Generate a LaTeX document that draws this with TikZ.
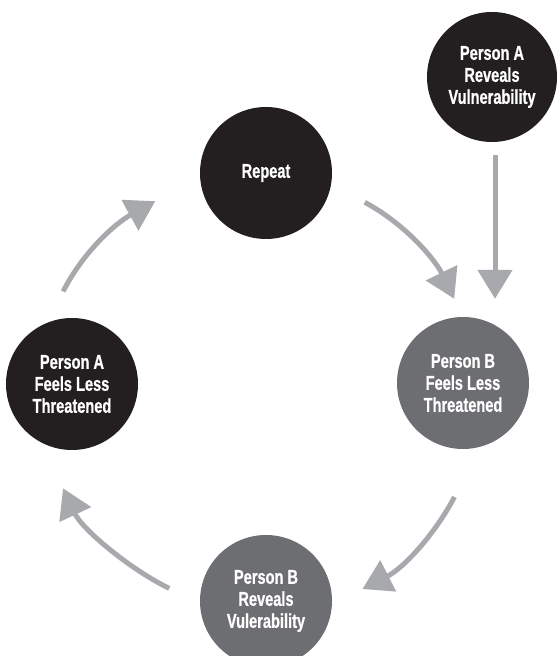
\documentclass[tikz,border=0pt]{standalone}
\usepackage{fontspec}
\setmainfont{Liberation Sans}[FakeStretch=0.73, FakeBold=0.6]
\usetikzlibrary{arrows.meta}
\definecolor{casinegro}{HTML}{231F20}
\definecolor{grisoscuro}{HTML}{6D6E71}
\definecolor{grisflecha}{HTML}{A7A9AC}

\begin{document}
\begin{tikzpicture}[
  x=1pt, y=1pt,
  font=\bfseries\fontsize{20}{22}\selectfont,
  paso/.style={circle, fill=#1, text=white, align=center,
    minimum size=132pt, inner sep=0pt},
  flujo/.style={grisflecha, line width=5pt,
    -{Triangle[length=29pt, width=34pt]}}]
\useasboundingbox (0,0) rectangle (557,656);
% Ciclo de pasos
\node[paso=casinegro] (rep) at (266,483) {Repeat};
\node[paso=grisoscuro] (bfeel) at (463,273) {Person B\\Feels Less\\Threatened};
\node[paso=grisoscuro] (brev) at (266,55) {Person B\\Reveals\\Vulerability};
\node[paso=casinegro] (afeel) at (72,272) {Person A\\Feels Less\\Threatened};
% Paso inicial, arriba a la derecha
\node[paso=casinegro, minimum size=130pt] (arev) at (492,579)
  {Person A\\Reveals\\Vulnerability};
% Flechas
\draw[flujo, shorten <=13pt, shorten >=18pt]
  ([xshift=3pt]arev.south) -- ([xshift=3pt]arev.south |- bfeel.north);
\draw[flujo, shorten <=38pt, shorten >=20pt]
  (rep.-10) to[out=-28, in=116, out looseness=1.13, in looseness=0.89]
  (bfeel.north);
\draw[flujo, shorten <=57pt, shorten >=34pt]
  (bfeel.-74) to[out=-118, in=27, out looseness=1.2, in looseness=0.93]
  (brev.-3);
\draw[flujo, shorten <=34pt, shorten >=50pt]
  (brev.182) to[out=154, in=-65, out looseness=0.9, in looseness=1.08]
  (afeel.-117);
\draw[flujo, shorten <=35pt, shorten >=51pt]
  (afeel.112) to[out=63, in=-151, out looseness=0.97, in looseness=1.16]
  (rep.183);
\end{tikzpicture}
\end{document}
